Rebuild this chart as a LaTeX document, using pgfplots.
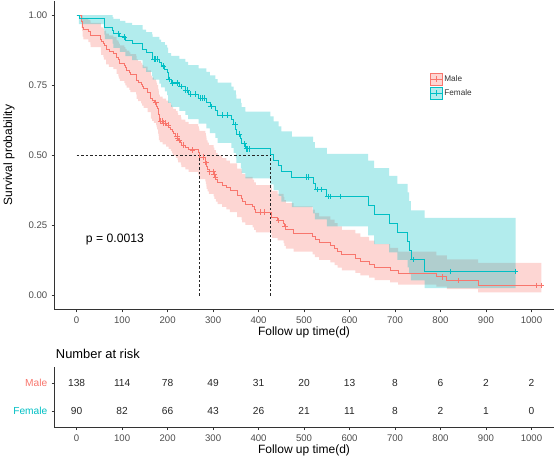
\documentclass[border=0pt]{standalone}
\usepackage{fontspec}
\setmainfont{Liberation Sans}
\usepackage{pgfplots}
\usepackage{pgfplotstable}
\pgfplotsset{compat=1.18}
\usepgfplotslibrary{fillbetween}

\definecolor{male}{HTML}{F8766D}
\definecolor{female}{HTML}{00BFC4}
\definecolor{ticktext}{HTML}{4D4D4D}

% Kaplan-Meier estimate with 95% CI (log), male
\pgfplotstableread{
t S L U
0 1 1 1
11 0.9783 0.9543 1
12 0.9710 0.9434 0.9994
13 0.9565 0.9231 0.9911
15 0.9493 0.9134 0.9866
26 0.9420 0.9038 0.9818
30 0.9348 0.8945 0.9770
31 0.9275 0.8852 0.9717
53 0.9130 0.8672 0.9612
54 0.9058 0.8583 0.9559
59 0.8986 0.8496 0.9504
60 0.8913 0.8409 0.9448
65 0.8768 0.8237 0.9334
71 0.8696 0.8152 0.9277
81 0.8623 0.8067 0.9218
88 0.8478 0.7900 0.9099
92 0.8406 0.7817 0.9040
93 0.8333 0.7734 0.8979
95 0.8261 0.7652 0.8919
105 0.8188 0.7570 0.8856
107 0.8116 0.7489 0.8795
110 0.8043 0.7408 0.8733
116 0.7971 0.7328 0.8671
118 0.7899 0.7247 0.8609
131 0.7826 0.7167 0.8545
132 0.7681 0.7008 0.8418
135 0.7609 0.6929 0.8355
142 0.7536 0.6850 0.8290
144 0.7464 0.6772 0.8226
147 0.7391 0.6693 0.8161
156 0.7246 0.6538 0.8031
163 0.7029 0.6306 0.7835
166 0.6957 0.6230 0.7769
170 0.6884 0.6153 0.7702
175 0.6811 0.6076 0.7635
176 0.6738 0.5999 0.7568
177 0.6664 0.5922 0.7500
179 0.6518 0.5769 0.7364
180 0.6445 0.5693 0.7296
181 0.6298 0.5541 0.7158
183 0.6225 0.5466 0.7090
189 0.6150 0.5388 0.7020
197 0.6073 0.5308 0.6947
202 0.5995 0.5228 0.6874
207 0.5917 0.5148 0.6801
210 0.5839 0.5068 0.6728
212 0.5762 0.4989 0.6655
218 0.5684 0.4909 0.6581
222 0.5605 0.4829 0.6506
223 0.5525 0.4747 0.6431
229 0.5442 0.4663 0.6352
230 0.5360 0.4579 0.6274
239 0.5276 0.4494 0.6194
246 0.5192 0.4409 0.6114
267 0.5107 0.4323 0.6033
269 0.5022 0.4238 0.5952
270 0.4937 0.4152 0.5870
283 0.4850 0.4065 0.5787
284 0.4764 0.3979 0.5704
285 0.4676 0.3891 0.5619
286 0.4587 0.3803 0.5533
288 0.4499 0.3715 0.5448
291 0.4411 0.3628 0.5362
301 0.4319 0.3538 0.5273
303 0.4225 0.3445 0.5182
306 0.4129 0.3350 0.5089
310 0.4033 0.3256 0.4996
320 0.3937 0.3162 0.4902
329 0.3841 0.3069 0.4808
337 0.3745 0.2976 0.4713
353 0.3553 0.2792 0.4522
363 0.3457 0.2700 0.4426
364 0.3361 0.2609 0.4330
371 0.3265 0.2519 0.4232
387 0.3169 0.2429 0.4135
390 0.3073 0.2339 0.4037
394 0.2977 0.2250 0.3938
428 0.2874 0.2155 0.3834
429 0.2771 0.2059 0.3729
442 0.2669 0.1966 0.3624
455 0.2562 0.1867 0.3515
457 0.2455 0.1770 0.3405
460 0.2344 0.1669 0.3291
477 0.2232 0.1569 0.3176
519 0.2120 0.1469 0.3059
524 0.2009 0.1372 0.2943
533 0.1897 0.1274 0.2824
558 0.1785 0.1178 0.2704
567 0.1674 0.1085 0.2584
574 0.1562 0.0991 0.2461
583 0.1451 0.0900 0.2339
613 0.1339 0.0810 0.2213
624 0.1228 0.0722 0.2088
643 0.1116 0.0636 0.1959
655 0.1004 0.0551 0.1828
689 0.0893 0.0470 0.1697
707 0.0781 0.0390 0.1563
791 0.0670 0.0314 0.1428
814 0.0536 0.0224 0.1285
883 0.0357 0.0109 0.1168
1022 0.0357 0.0109 0.1168
}\malekm

% female
\pgfplotstableread{
t S L U
0 1 1 1
5 0.9889 0.9675 1
60 0.9778 0.9478 1
61 0.9667 0.9303 1
62 0.9556 0.9139 0.9992
79 0.9444 0.8982 0.9929
81 0.9333 0.8832 0.9863
95 0.9221 0.8683 0.9793
107 0.9107 0.8535 0.9717
122 0.8993 0.8390 0.9640
145 0.8766 0.8108 0.9477
153 0.8652 0.7970 0.9392
166 0.8538 0.7834 0.9306
167 0.8424 0.7699 0.9218
182 0.8305 0.7558 0.9126
186 0.8187 0.7421 0.9033
194 0.8066 0.7280 0.8937
199 0.7946 0.7142 0.8841
201 0.7705 0.6869 0.8643
208 0.7581 0.6729 0.8541
226 0.7452 0.6584 0.8434
239 0.7321 0.6437 0.8326
245 0.7186 0.6286 0.8214
268 0.7045 0.6129 0.8098
285 0.6895 0.5961 0.7975
293 0.6742 0.5791 0.7849
305 0.6585 0.5618 0.7719
310 0.6428 0.5446 0.7587
340 0.6264 0.5267 0.7450
345 0.6099 0.5089 0.7310
350 0.5929 0.4906 0.7165
351 0.5760 0.4727 0.7019
361 0.5585 0.4542 0.6867
363 0.5411 0.4361 0.6714
371 0.5230 0.4173 0.6555
426 0.5029 0.3962 0.6384
433 0.4828 0.3754 0.6209
444 0.4627 0.3549 0.6031
450 0.4426 0.3348 0.5851
473 0.4225 0.3150 0.5667
520 0.4003 0.2930 0.5469
524 0.3780 0.2713 0.5266
550 0.3528 0.2466 0.5048
641 0.3208 0.2142 0.4805
654 0.2887 0.1834 0.4544
687 0.2566 0.1542 0.4269
705 0.2246 0.1267 0.3981
728 0.1925 0.1007 0.3678
731 0.1604 0.0765 0.3361
735 0.1283 0.0543 0.3032
765 0.0855 0.0264 0.2767
965 0.0855 0.0264 0.2767
}\femalekm

% number at risk
\pgfplotstableread{
t y n
0 2 138
100 2 114
200 2 78
300 2 49
400 2 31
500 2 20
600 2 13
700 2 8
800 2 6
900 2 2
1000 2 2
0 1 90
100 1 82
200 1 66
300 1 43
400 1 26
500 1 21
600 1 11
700 1 8
800 1 2
900 1 1
1000 1 0
}\risk

\pgfplotsset{
  kmaxis/.style={
    scale only axis, anchor=south west,
    xmin=-49.2, xmax=1049,
    axis x line*=bottom, axis y line*=left,
    axis line style={black!80, line width=0.55pt, -},
    tick style={black!80, line width=0.55pt},
    tick align=outside, major tick length=2.75pt,
    xtick={0,100,...,1000},
    /pgf/number format/1000 sep={},
    /pgf/number format/assume math mode=true,
    ticklabel style={font=\fontsize{9.6}{10}\selectfont, text=ticktext, inner sep=0pt},
    xticklabel style={anchor=north, yshift=-4.6pt},
    yticklabel style={anchor=east, xshift=-4pt},
    xlabel={Follow up time(d)},
    xlabel style={at={(axis description cs:0.5,0)}, anchor=center, yshift=-23pt,
      font=\fontsize{12}{13}\selectfont},
  },
}

\begin{document}
\begin{tikzpicture}

\begin{axis}[
  kmaxis,
  at={(54.3pt,149.3pt)},
  width=499.7pt, height=308.7pt,
  ymin=-0.05, ymax=1.05,
  ytick={0,0.25,0.5,0.75,1},
  yticklabels={0.00,0.25,0.50,0.75,1.00},
  ylabel={Survival probability},
  ylabel style={at={(axis description cs:-0.0907,0.5)}, anchor=center,
    font=\fontsize{12}{13}\selectfont},
  legend style={at={(axis description cs:0.752,0.768)}, anchor=north west,
    draw=none, fill=none, inner sep=0pt, row sep=1pt,
    font=\fontsize{8.2}{9}\selectfont, text=black!80},
  legend cell align=left,
]
% confidence bands
\addplot[name path=mu, const plot, draw=none, forget plot] table[x=t, y=U] {\malekm};
\addplot[name path=ml, const plot, draw=none, forget plot] table[x=t, y=L] {\malekm};
\addplot[male, fill opacity=0.3, draw=none, forget plot] fill between[of=mu and ml];
\addplot[name path=fu, const plot, draw=none, forget plot] table[x=t, y=U] {\femalekm};
\addplot[name path=fl, const plot, draw=none, forget plot] table[x=t, y=L] {\femalekm};
\addplot[female, fill opacity=0.3, draw=none, forget plot] fill between[of=fu and fl];

% median lines
\addplot[black!85, line width=0.5pt, dash pattern=on 2.5pt off 2pt, forget plot]
  coordinates {(0,0.5) (426,0.5)};
\addplot[black!85, line width=0.5pt, dash pattern=on 2.5pt off 2pt, forget plot]
  coordinates {(270,0) (270,0.5)};
\addplot[black!85, line width=0.5pt, dash pattern=on 2.5pt off 2pt, forget plot]
  coordinates {(426,0) (426,0.5)};

% survival curves
\addplot[male, const plot, line width=0.8pt, forget plot] table[x=t, y=S] {\malekm};
\addplot[female, const plot, line width=0.8pt, forget plot] table[x=t, y=S] {\femalekm};

% censored
\addplot[male, only marks, mark=+, mark size=2.8pt, mark options={line width=0.7pt}, forget plot]
  coordinates {
  (174,0.6884) (185,0.6225) (188,0.6225) (191,0.6150) (196,0.6150) (201,0.6073)
  (221,0.5684) (222,0.5605) (225,0.5525) (226,0.5525) (235,0.5360) (255,0.5192)
  (279,0.4937) (284,0.4764) (292,0.4411) (300,0.4411) (302,0.4319) (305,0.4225)
  (404,0.2977) (413,0.2977) (444,0.2669) (458,0.2455) (803,0.0670) (840,0.0536)
  (1010,0.0357) (1022,0.0357)};
\addplot[female, only marks, mark=+, mark size=2.8pt, mark options={line width=0.7pt}, forget plot]
  coordinates {
  (92,0.9333) (105,0.9221) (170,0.8424) (173,0.8424) (177,0.8424) (191,0.8187)
  (203,0.7705) (204,0.7705) (211,0.7581) (222,0.7581) (230,0.7452) (240,0.7321)
  (243,0.7321) (250,0.7186) (262,0.7186) (272,0.7045) (276,0.7045) (280,0.7045)
  (296,0.6742) (320,0.6428) (332,0.6428) (348,0.6099) (357,0.5760) (368,0.5411)
  (374,0.5230) (376,0.5230) (380,0.5230) (505,0.4225) (510,0.4225) (529,0.3780)
  (537,0.3780) (553,0.3528) (558,0.3528) (580,0.3528) (740,0.1283) (821,0.0855)
  (965,0.0855)};

\node[anchor=west, inner sep=0pt, font=\fontsize{12.2}{13}\selectfont] at (axis cs:20,0.2) {p = 0.0013};

\addlegendimage{legend image code/.code={
  \fill[male, fill opacity=0.3] (0pt,-6.3pt) rectangle (11.5pt,6.3pt);
  \draw[male, line width=0.8pt] (0pt,0pt) -- (11.5pt,0pt);
  \draw[male, line width=0.7pt] (5.75pt,-2.8pt) -- (5.75pt,2.8pt) (2.95pt,0pt) -- (8.55pt,0pt);}}
\addlegendentry{Male}
\addlegendimage{legend image code/.code={
  \fill[female, fill opacity=0.3] (0pt,-6.3pt) rectangle (11.5pt,6.3pt);
  \draw[female, line width=0.8pt] (0pt,0pt) -- (11.5pt,0pt);
  \draw[female, line width=0.7pt] (5.75pt,-2.8pt) -- (5.75pt,2.8pt) (2.95pt,0pt) -- (8.55pt,0pt);}}
\addlegendentry{Female}
\end{axis}

% risk table
\begin{axis}[
  kmaxis,
  at={(54.3pt,31.5pt)},
  width=499.7pt, height=60.5pt,
  ymin=0.4, ymax=2.6,
  ytick={1,2},
  yticklabels={\textcolor{female}{Female},\textcolor{male}{Male}},
  yticklabel style={font=\fontsize{10.2}{11}\selectfont},
  title={Number at risk},
  title style={at={(axis description cs:0,1)}, anchor=west, inner sep=0pt,
    xshift=1.5pt, yshift=7pt, font=\fontsize{12.9}{14}\selectfont},
]
\addplot[only marks, mark=*, mark size=0pt, mark options={draw=none, fill=none},
  nodes near coords, point meta=explicit symbolic,
  nodes near coords style={anchor=center, inner sep=0pt, text=black!85,
    font=\fontsize{10.2}{11}\selectfont}]
  table[x=t, y=y, meta=n] {\risk};
\end{axis}

\path (0,0) rectangle (554pt,459pt);
\end{tikzpicture}
\end{document}
